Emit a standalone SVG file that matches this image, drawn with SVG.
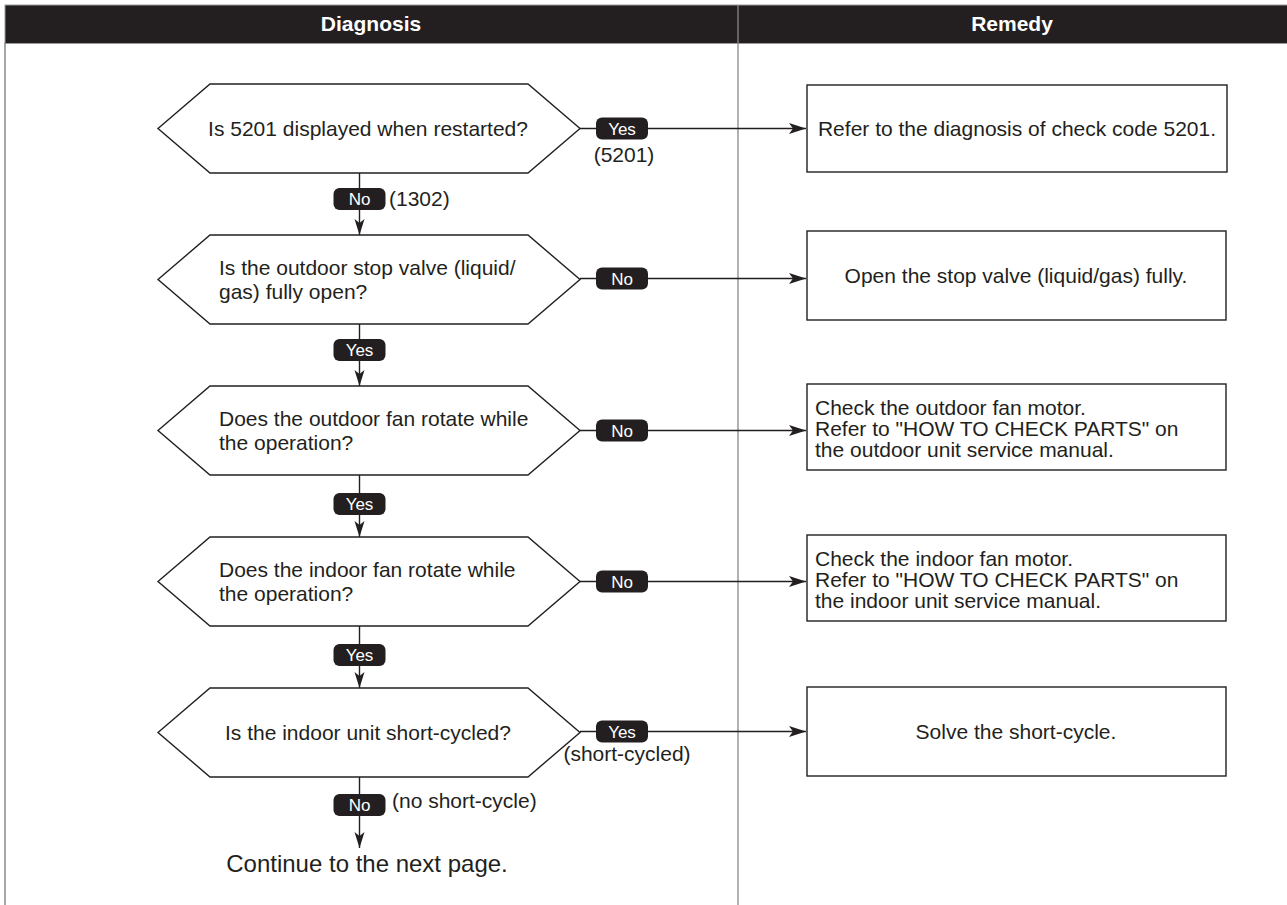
<svg xmlns="http://www.w3.org/2000/svg" width="1287" height="905" viewBox="0 0 1287 905">
<defs>
<style>
.t{font-family:"Liberation Sans",Arial,sans-serif;font-size:21px;fill:#231f20}
.c{text-anchor:middle}
.hx{fill:#fff;stroke:#231f20;stroke-width:1.4}
.bx{fill:#fff;stroke:#231f20;stroke-width:1.4}
.ln{stroke:#231f20;stroke-width:1.4;fill:none}
.bd{fill:#231f20}
.bt{font-family:"Liberation Sans",Arial,sans-serif;font-size:17px;fill:#fff;text-anchor:middle}
.hd{font-family:"Liberation Sans",Arial,sans-serif;font-size:21px;font-weight:bold;fill:#fff;text-anchor:middle}
</style>
<marker id="ah" markerUnits="userSpaceOnUse" markerWidth="18" markerHeight="12" refX="17" refY="5.5" orient="auto">
<path d="M0,0 L17,5.5 L0,11 L4,5.5 z" fill="#231f20"/>
</marker>
<marker id="av" markerUnits="userSpaceOnUse" markerWidth="18" markerHeight="12" refX="16" refY="5" orient="auto">
<path d="M0,0 L16,5 L0,10 L4,5 z" fill="#231f20"/>
</marker>
</defs>
<rect width="1287" height="905" fill="#fff"/>
<g id="table">
<rect x="5" y="5" width="1287" height="38.5" fill="#231f20" stroke="#9a9a9a" stroke-width="1"/>
<line x1="5" y1="43" x2="5" y2="905" stroke="#777" stroke-width="1.3"/>
<line x1="738" y1="5" x2="738" y2="905" stroke="#888" stroke-width="1.3"/>
<text class="hd" x="371" y="31">Diagnosis</text>
<text class="hd" x="1012" y="31">Remedy</text>
</g>
<g id="connectors">
<line class="ln" x1="359.5" y1="173" x2="359.5" y2="235" marker-end="url(#av)"/>
<line class="ln" x1="359.5" y1="324" x2="359.5" y2="386" marker-end="url(#av)"/>
<line class="ln" x1="359.5" y1="475" x2="359.5" y2="537" marker-end="url(#av)"/>
<line class="ln" x1="359.5" y1="626" x2="359.5" y2="688" marker-end="url(#av)"/>
<line class="ln" x1="359.5" y1="777" x2="359.5" y2="848" marker-end="url(#av)"/>
<line class="ln" x1="580" y1="128.5" x2="806" y2="128.5" marker-end="url(#ah)"/>
<line class="ln" x1="580" y1="278.5" x2="806" y2="278.5" marker-end="url(#ah)"/>
<line class="ln" x1="580" y1="430.5" x2="806" y2="430.5" marker-end="url(#ah)"/>
<line class="ln" x1="580" y1="581.5" x2="806" y2="581.5" marker-end="url(#ah)"/>
<line class="ln" x1="580" y1="731.5" x2="806" y2="731.5" marker-end="url(#ah)"/>
<rect class="bd" x="596" y="117.5" width="52" height="22" rx="6"/><text class="bt" x="622" y="134.5">Yes</text>
<text class="t c" x="624" y="162">(5201)</text>
<rect class="bd" x="333.5" y="188" width="52" height="22" rx="6"/><text class="bt" x="359.5" y="205">No</text>
<text class="t" x="389" y="206">(1302)</text>
<rect class="bd" x="596" y="267.5" width="52" height="22" rx="6"/><text class="bt" x="622" y="284.5">No</text>
<rect class="bd" x="333.5" y="339" width="52" height="22" rx="6"/><text class="bt" x="359.5" y="356">Yes</text>
<rect class="bd" x="596" y="419.5" width="52" height="22" rx="6"/><text class="bt" x="622" y="436.5">No</text>
<rect class="bd" x="333.5" y="493" width="52" height="22" rx="6"/><text class="bt" x="359.5" y="510">Yes</text>
<rect class="bd" x="596" y="570.5" width="52" height="22" rx="6"/><text class="bt" x="622" y="587.5">No</text>
<rect class="bd" x="333.5" y="644" width="52" height="22" rx="6"/><text class="bt" x="359.5" y="661">Yes</text>
<rect class="bd" x="596" y="720.5" width="52" height="22" rx="6"/><text class="bt" x="622" y="737.5">Yes</text>
<text class="t c" x="627" y="761">(short-cycled)</text>
<rect class="bd" x="333.5" y="794" width="52" height="22" rx="6"/><text class="bt" x="359.5" y="811">No</text>
<text class="t" x="392" y="808">(no short-cycle)</text>
</g>
<g id="q1">
<polygon class="hx" points="158,128.5 210,84 528,84 580,128.5 528,173 210,173"/>
<text class="t c" x="368" y="136">Is 5201 displayed when restarted?</text>
</g>
<g id="q2">
<polygon class="hx" points="158,279.5 210,235 528,235 580,279.5 528,324 210,324"/>
<text class="t" x="219" y="275">Is the outdoor stop valve (liquid/</text>
<text class="t" x="219" y="299">gas) fully open?</text>
</g>
<g id="q3">
<polygon class="hx" points="158,430.5 210,386 528,386 580,430.5 528,475 210,475"/>
<text class="t" x="219" y="426">Does the outdoor fan rotate while</text>
<text class="t" x="219" y="450">the operation?</text>
</g>
<g id="q4">
<polygon class="hx" points="158,581.5 210,537 528,537 580,581.5 528,626 210,626"/>
<text class="t" x="219" y="577">Does the indoor fan rotate while</text>
<text class="t" x="219" y="601">the operation?</text>
</g>
<g id="q5">
<polygon class="hx" points="158,732.5 210,688 528,688 580,732.5 528,777 210,777"/>
<text class="t c" x="368" y="740">Is the indoor unit short-cycled?</text>
</g>
<g id="end">
<text class="t c" x="367" y="872" style="font-size:24px">Continue to the next page.</text>
</g>
<g id="r1">
<rect class="bx" x="807" y="85" width="420" height="87"/>
<text class="t c" x="1017" y="136">Refer to the diagnosis of check code 5201.</text>
</g>
<g id="r2">
<rect class="bx" x="807" y="231" width="419" height="89"/>
<text class="t c" x="1016" y="283">Open the stop valve (liquid/gas) fully.</text>
</g>
<g id="r3">
<rect class="bx" x="807" y="384" width="419" height="86"/>
<text class="t" x="815" y="415">Check the outdoor fan motor.</text>
<text class="t" x="815" y="436">Refer to "HOW TO CHECK PARTS" on</text>
<text class="t" x="815" y="457">the outdoor unit service manual.</text>
</g>
<g id="r4">
<rect class="bx" x="807" y="535" width="419" height="86"/>
<text class="t" x="815" y="566">Check the indoor fan motor.</text>
<text class="t" x="815" y="587">Refer to "HOW TO CHECK PARTS" on</text>
<text class="t" x="815" y="608">the indoor unit service manual.</text>
</g>
<g id="r5">
<rect class="bx" x="807" y="687" width="419" height="89"/>
<text class="t c" x="1016" y="739">Solve the short-cycle.</text>
</g>
</svg>
